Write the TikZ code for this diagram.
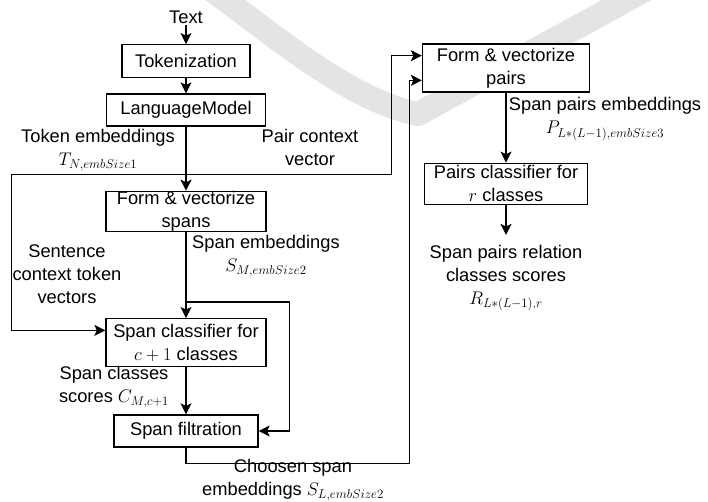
\RequirePackage{fix-cm}
\documentclass[tikz,border=0pt]{standalone}
\usepackage[no-math]{fontspec}
\setmainfont{Liberation Sans}
\usepackage{tikz}
\usetikzlibrary{arrows.meta,positioning,calc}
\definecolor{pipeink}{HTML}{000000}
\definecolor{pipewmark}{HTML}{E4E4E4}
\newcommand{\pipefont}{\fontsize{18.3pt}{23pt}\selectfont}
\tikzset{
  box/.style  = {rectangle, draw=pipeink, line width=1.3pt, fill=white, align=center,
                 inner sep=1pt, font=\pipefont},
  lbl/.style  = {align=center, inner sep=1pt, font=\pipefont, text=pipeink},
  flow/.style = {-{Stealth[length=11pt,width=11pt,inset=2.5pt]}, line width=1.3pt, draw=pipeink},
}

\begin{document}
\begin{tikzpicture}[x=1pt, y=-1pt, node distance=15pt]
\useasboundingbox (0,0) rectangle (708,502);

% faint mark in the background
\draw[pipewmark, line width=24pt, line cap=round, line join=round]
  (212,-10) .. controls (280,40) and (350,100) .. (418,114) -- (645,-10);

\node[lbl] (text) at (186,17.5) {Text};
\node[box, minimum width=128pt, minimum height=33pt, below=19pt of text] (tok) {Tokenization};
\node[box, minimum width=159pt, minimum height=32pt, below=15pt of tok] (lm) {LanguageModel};
\node[box, minimum width=160pt, minimum height=40pt, inner ysep=0pt, below=64pt of lm] (spans) {Form \& vectorize\\spans};
\node[box, minimum width=160pt, minimum height=48pt, below=86pt of spans] (spancls) {Span classifier for\\$c+1$ classes};
\node[box, minimum width=144pt, minimum height=32pt, below=47pt of spancls] (filt) {Span filtration};

\node[box, minimum width=167pt, minimum height=48pt] (pairs) at (506,68) {Form \& vectorize\\pairs};
\node[box, minimum width=163pt, minimum height=41pt, below=70pt of pairs] (paircls) {Pairs classifier for\\$r$ classes};
\node[lbl, inner ysep=10pt, below=30pt of paircls] (res) {Span pairs relation\\classes scores\\$R_{L*(L-1),r}$};

\node[lbl] (tokemb) at (98,150) {Token embeddings\\$T_{N,embSize1}$};
\node[lbl] (pairctx) at (310,147) {Pair context\\vector};
\node[lbl] (sentctx) at (67,274.5) {Sentence\\context token\\vectors};
\node[lbl] (spanemb) at (266,256) {Span embeddings\\$S_{M,embSize2}$};
\node[lbl] (clsscore) at (114,387) {Span classes\\scores $C_{M,c+1}$};
\node[lbl] (chosen) at (293,480) {Choosen span\\embeddings $S_{L,embSize2}$};
\node[lbl] (pairemb) at (605,119) {Span pairs embeddings\\$P_{L*(L-1),embSize3}$};

\coordinate[below=48pt of lm] (tsplit);
\coordinate[below=70pt of spans] (ssplit);
\coordinate (clsin) at ($(spancls.north west)!0.25!(spancls.south west)$);
\coordinate (pin1) at ($(pairs.north west)!0.25!(pairs.south west)$);
\coordinate (pin2) at ($(pairs.north west)!0.75!(pairs.south west)$);

\draw[flow] (text) -- (tok);
\draw[flow] (tok) -- (lm);
\draw[flow] (lm) -- (spans);
\draw[flow] (tsplit) -| ([xshift=-94pt]clsin) -- (clsin);
\draw[flow] (tsplit) -| ([xshift=-30.5pt]pin1) -- (pin1);
\draw[flow] (spans) -- (spancls);
\draw[flow] (ssplit) -| ([xshift=31pt]filt.east) -- (filt.east);
\draw[flow] (spancls) -- (filt);
\draw[flow] (filt.south) -- ([yshift=-16pt]filt.south) -| ([xshift=-12.5pt]pin2) -- (pin2);
\draw[flow] (pairs) -- (paircls);
\draw[flow] (paircls) -- (res);

\end{tikzpicture}
\end{document}
